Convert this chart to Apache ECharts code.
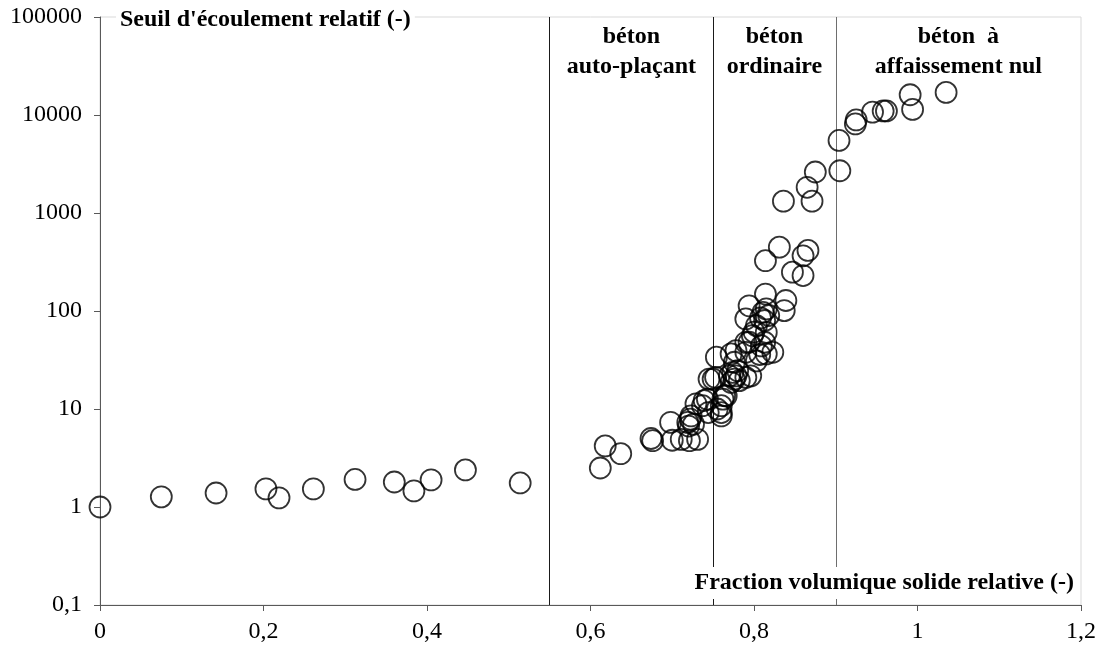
<!DOCTYPE html>
<html>
<head>
<meta charset="utf-8">
<script src="https://cdn.jsdelivr.net/npm/echarts@6/dist/echarts.min.js"></script>
<style>
html,body{margin:0;padding:0;background:#fff;}
#chart{width:1099px;height:647px;}
</style>
</head>
<body>
<div id="chart"></div>
<script>
// Fraction volumique solide relative (-)
const fracSolide = [
  0, 0.075, 0.142, 0.203, 0.219, 0.261, 0.312, 0.360, 0.384, 0.405, 0.447, 0.514,
  0.612, 0.618, 0.637, 0.674, 0.676, 0.698, 0.700, 0.711, 0.721, 0.731, 0.722, 0.719,
  0.723, 0.720, 0.726, 0.729, 0.737, 0.739, 0.743, 0.745, 0.750, 0.753, 0.754, 0.744,
  0.755, 0.760, 0.762, 0.760, 0.764, 0.760, 0.766, 0.770, 0.774, 0.778, 0.776, 0.780,
  0.772, 0.782, 0.790, 0.796, 0.772, 0.778, 0.776, 0.790, 0.790, 0.794, 0.800, 0.798,
  0.809, 0.803, 0.807, 0.815, 0.823, 0.813, 0.815, 0.803, 0.790, 0.811, 0.794, 0.813,
  0.818, 0.815, 0.808, 0.837, 0.839, 0.814, 0.814, 0.831, 0.847, 0.860, 0.860, 0.866,
  0.836, 0.871, 0.865, 0.875, 0.905, 0.904, 0.924, 0.925, 0.945, 0.958, 0.962, 0.994,
  0.991, 1.035
];
// Seuil d'écoulement relatif (-)
const seuil = [
  1, 1.27, 1.39, 1.53, 1.24, 1.53, 1.91, 1.80, 1.46, 1.89, 2.39, 1.76,
  2.5, 4.2, 3.5, 5.0, 4.75, 7.3, 4.8, 4.9, 4.75, 4.9, 7.9, 7.3,
  8.5, 6.7, 7.0, 11.3, 10.8, 12.2, 12.6, 20.2, 20.2, 21, 33.8, 9.2,
  10, 10.8, 12.6, 9.2, 13.7, 8.5, 13.6, 21.8, 23.6, 21.8, 20.2, 24.6,
  18.7, 19.5, 21, 21.8, 36.5, 39.4, 30, 47.9, 37.9, 48, 61, 56,
  44, 31, 36, 36.5, 37.9, 48, 60.5, 71, 83, 97, 113, 80,
  90, 105, 85, 101, 128, 149, 326, 448, 249, 230, 366, 415,
  1320, 1320, 1830, 2620, 2700, 5500, 8100, 8900, 10700, 11000, 11000, 11400,
  16100, 17000
];
const xTicks = [0, 0.2, 0.4, 0.6, 0.8, 1, 1.2];
const yTicks = [0.1, 1, 10, 100, 1000, 10000, 100000];
const zoneBounds = [0.55, 0.75, 0.9];
const zoneLabels = [
  {x: 0.65, text: 'béton\nauto-plaçant'},
  {x: 0.825, text: 'béton\nordinaire'},
  {x: 1.05, text: 'béton  à\naffaissement nul'}
];
const yTitle = "Seuil d'écoulement relatif (-)";
const xTitle = 'Fraction volumique solide relative (-)';

const FONT = '"Liberation Serif", "Times New Roman", serif';
const chart = echarts.init(document.getElementById('chart'));
const points = fracSolide.map((x, i) => [x, seuil[i]]);

function fmtComma(v) {
  const r = Math.round(v * 1000) / 1000;
  return String(r).replace('.', ',');
}

chart.setOption({
  animation: false,
  backgroundColor: '#fff',
  grid: {left: 100, right: 17, top: 17, bottom: 42, show: true, borderColor: '#d9d9d9', borderWidth: 1},
  xAxis: {
    type: 'value', min: xTicks[0], max: xTicks[xTicks.length - 1], interval: 0.2,
    axisLine: {show: true, onZero: false, lineStyle: {color: '#595959', width: 1}},
    axisTick: {show: true, inside: false, length: 6, lineStyle: {color: '#595959'}},
    splitLine: {show: false},
    axisLabel: {fontFamily: FONT, fontSize: 24, color: '#000', margin: 15, formatter: fmtComma}
  },
  yAxis: {
    type: 'log', logBase: 10, min: yTicks[0], max: yTicks[yTicks.length - 1],
    axisLine: {show: true, lineStyle: {color: '#595959', width: 1}},
    axisTick: {show: true, inside: false, length: 6, lineStyle: {color: '#595959'}},
    minorTick: {show: false},
    splitLine: {show: false},
    axisLabel: {fontFamily: FONT, fontSize: 24, color: '#000', margin: 18, formatter: fmtComma}
  },
  series: [
    {
      type: 'scatter',
      data: points,
      symbol: 'circle',
      symbolSize: 21,
      itemStyle: {color: 'rgba(0,0,0,0)', borderColor: '#000', borderWidth: 1.8},
      z: 3,
      markLine: {
        silent: true,
        symbol: 'none',
        label: {show: false},
        data: zoneBounds.map((b, i) => ({
          xAxis: b,
          lineStyle: {color: i === 2 ? '#6e6e6e' : '#1a1a1a', width: 1, type: 'solid'}
        })),
        z: 2
      }
    }
  ]
});

function placeTexts() {
  const elems = [];
  zoneLabels.forEach(z => {
    const px = chart.convertToPixel({gridIndex: 0}, [z.x, 1]);
    elems.push({
      type: 'text', x: px[0], y: 52, z: 10,
      style: {text: z.text, font: 'bold 24px ' + FONT, fill: '#000', align: 'center', verticalAlign: 'middle', lineHeight: 30}
    });
  });
  elems.push({
    type: 'text', x: 116, y: 20, z: 10,
    style: {text: yTitle, font: 'bold 24px ' + FONT, fill: '#000', align: 'left', verticalAlign: 'middle',
      backgroundColor: '#fff', padding: [4, 4, 4, 4]}
  });
  elems.push({
    type: 'text', x: 1078, y: 583, z: 10,
    style: {text: xTitle, font: 'bold 24px ' + FONT, fill: '#000', align: 'right', verticalAlign: 'middle',
      backgroundColor: '#fff', padding: [4, 4, 4, 4]}
  });
  chart.setOption({graphic: elems});
}
placeTexts();
</script>
</body>
</html>
